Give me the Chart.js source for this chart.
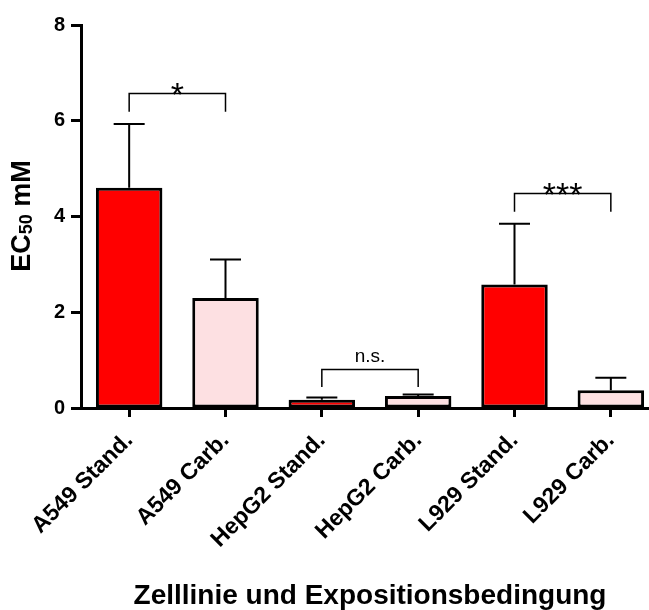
<!DOCTYPE html>
<html>
<head>
<meta charset="utf-8">
<script src="https://cdn.jsdelivr.net/npm/chart.js@4.4.1/dist/chart.umd.min.js"></script>
<style>
  html, body { margin: 0; padding: 0; background: #fff; overflow: hidden; }
  #wrap { width: 690px; height: 610px; }
</style>
</head>
<body>
<div id="wrap"><canvas id="ec50Chart"></canvas></div>
<script>
// Kategorien und Werte
const kategorien = ['A549 Stand.', 'A549 Carb.', 'HepG2 Stand.', 'HepG2 Carb.', 'L929 Stand.', 'L929 Carb.'];
const ec50 = [4.6, 2.3, 0.17, 0.25, 2.58, 0.37];
const fehlerOben = [5.93, 3.1, 0.22, 0.28, 3.85, 0.63];
const farben = ['#ff0000', '#fde0e2', '#ff0000', '#fde0e2', '#ff0000', '#fde0e2'];
const yTicks = [0, 2, 4, 6, 8];

// Signifikanz-Klammern
const sigPaare = [[0, 1], [2, 3], [4, 5]];
const sigText = ['*', 'n.s.', '***'];
const sigOben = [6.58, 0.81, 4.5];
const sigUnten = [6.19, 0.44, 4.1];

const schrift = '"Liberation Sans", Arial, sans-serif';

const fehlerPlugin = {
    id: 'fehler',
    afterDatasetsDraw(chart) {
        const ctx = chart.ctx;
        const x = chart.scales.x, y = chart.scales.y;
        ctx.save();
        ctx.strokeStyle = '#000';
        ctx.lineWidth = 2;
        ec50.forEach((v, i) => {
            const px = x.getPixelForValue(i);
            const y0 = y.getPixelForValue(v);
            const y1 = y.getPixelForValue(fehlerOben[i]);
            ctx.beginPath();
            ctx.moveTo(px, y0);
            ctx.lineTo(px, y1);
            ctx.moveTo(px - 15.5, y1);
            ctx.lineTo(px + 15.5, y1);
            ctx.stroke();
        });
        // Klammern
        ctx.lineWidth = 1.5;
        sigPaare.forEach((p, i) => {
            const xa = x.getPixelForValue(p[0]);
            const xb = x.getPixelForValue(p[1]);
            const yt = Math.round(y.getPixelForValue(sigOben[i])) + 0.5;
            const yb = y.getPixelForValue(sigUnten[i]);
            ctx.beginPath();
            ctx.moveTo(xa, yb);
            ctx.lineTo(xa, yt);
            ctx.lineTo(xb, yt);
            ctx.lineTo(xb, yb);
            ctx.stroke();
            ctx.fillStyle = '#000';
            ctx.textAlign = 'center';
            ctx.textBaseline = 'alphabetic';
            if (sigText[i] === 'n.s.') {
                ctx.font = '19px ' + schrift;
                ctx.fillText(sigText[i], (xa + xb) / 2, yt - 8);
            } else {
                ctx.font = '34px ' + schrift;
                ctx.fillText(sigText[i], (xa + xb) / 2, yt + 12);
            }
        });
        // y-Achsentitel EC50 mM
        ctx.translate(23, 216);
        ctx.rotate(-Math.PI / 2);
        ctx.textBaseline = 'middle';
        ctx.textAlign = 'left';
        const fGross = 'bold 27px ' + schrift;
        const fKlein = 'bold 18px ' + schrift;
        ctx.font = fGross;
        const w1 = ctx.measureText('EC').width;
        const w3 = ctx.measureText(' mM').width;
        ctx.font = fKlein;
        const w2 = ctx.measureText('50').width;
        const sx = -(w1 + w2 + w3) / 2;
        ctx.font = fGross;
        ctx.fillText('EC', sx, 0);
        ctx.font = fKlein;
        ctx.fillText('50', sx + w1, 4);
        ctx.font = fGross;
        ctx.fillText(' mM', sx + w1 + w2, 0);
        ctx.restore();
    }
};

const ctx = document.getElementById('ec50Chart').getContext('2d');
new Chart(ctx, {
    type: 'bar',
    data: {
        labels: kategorien,
        datasets: [{
            data: ec50,
            backgroundColor: farben,
            borderColor: '#000',
            borderWidth: 3,
            borderSkipped: false,
            categoryPercentage: 1,
            barPercentage: 0.69
        }]
    },
    options: {
        responsive: true,
        maintainAspectRatio: false,
        animation: false,
        layout: { padding: { top: 25, left: 0, right: 31, bottom: 0 } },
        plugins: {
            legend: { display: false },
            tooltip: { enabled: false }
        },
        scales: {
            y: {
                min: 0,
                max: 8,
                afterBuildTicks: s => { s.ticks = yTicks.map(v => ({ value: v })); },
                afterFit: s => { s.width = 81; },
                border: { color: '#000', width: 3 },
                grid: { drawOnChartArea: false, color: '#000', tickLength: 10, tickWidth: 3 },
                ticks: {
                    color: '#000',
                    padding: 6,
                    font: { family: schrift, size: 20, weight: 'bold' }
                }
            },
            x: {
                offset: true,
                afterFit: s => { s.height = 202; },
                border: { color: '#000', width: 3 },
                grid: { offset: false, drawOnChartArea: false, color: '#000', tickLength: 9, tickWidth: 3 },
                ticks: {
                    color: '#000',
                    minRotation: 45,
                    maxRotation: 45,
                    padding: 10,
                    font: { family: schrift, size: 23, weight: 'bold' }
                },
                title: {
                    display: true,
                    text: 'Zelllinie und Expositionsbedingung',
                    color: '#000',
                    padding: { top: 0, bottom: 0 },
                    font: { family: schrift, size: 28, weight: 'bold', lineHeight: 0.95 }
                }
            }
        }
    },
    plugins: [fehlerPlugin]
});
</script>
</body>
</html>
